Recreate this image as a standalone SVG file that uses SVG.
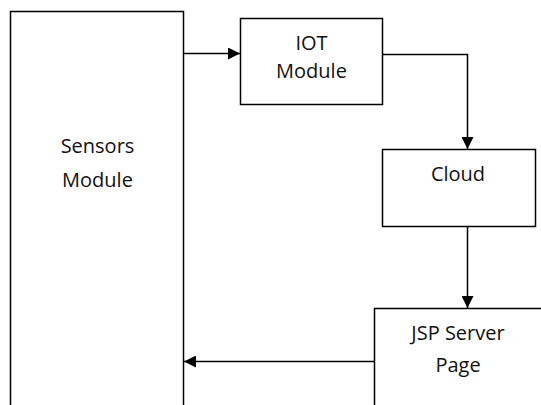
<svg xmlns="http://www.w3.org/2000/svg" width="541" height="405" viewBox="0 0 541 405">
<defs>
<style>
.box{fill:#fff;stroke:#000;stroke-width:1.5}
.lbl{font-family:"Open Sans","Noto Sans",sans-serif;font-size:20px;fill:#111;text-anchor:middle}
.con{fill:none;stroke:#000;stroke-width:1.5}
</style>
<marker id="ah" markerWidth="12" markerHeight="12" refX="12" refY="6" orient="auto" markerUnits="userSpaceOnUse">
<path d="M0,0 L12,6 L0,12 Z" fill="#000"/>
</marker>
</defs>
<rect width="541" height="405" fill="#fff"/>
<g id="sensors">
<rect class="box" x="10.5" y="11.5" width="173" height="400"/>
<text class="lbl" x="97.5" y="153">Sensors</text>
<text class="lbl" x="97.5" y="187">Module</text>
</g>
<g id="iot">
<rect class="box" x="240.5" y="18.5" width="142" height="86"/>
<text class="lbl" x="311.5" y="50">IOT</text>
<text class="lbl" x="311.5" y="78">Module</text>
</g>
<g id="cloud">
<rect class="box" x="382.5" y="149.5" width="153" height="77"/>
<text class="lbl" x="458" y="181">Cloud</text>
</g>
<g id="jsp">
<rect class="box" x="374.5" y="308.5" width="180" height="110"/>
<text class="lbl" x="458" y="340">JSP Server</text>
<text class="lbl" x="458" y="372">Page</text>
</g>
<g id="connectors">
<path class="con" d="M183.5,53.5 L240,53.5" marker-end="url(#ah)"/>
<path class="con" d="M382.5,54.5 L467.5,54.5 L467.5,149" marker-end="url(#ah)"/>
<path class="con" d="M467.5,226.5 L467.5,308" marker-end="url(#ah)"/>
<path class="con" d="M374.5,361.5 L184,361.5" marker-end="url(#ah)"/>
</g>
</svg>
